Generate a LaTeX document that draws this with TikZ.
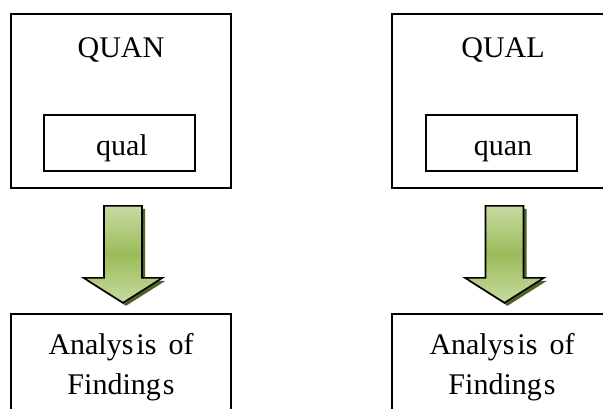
\documentclass[tikz,border=0pt]{standalone}
\usepackage{fontspec}
\setmainfont{Liberation Serif}
\usetikzlibrary{calc}

\definecolor{arrowgreen}{HTML}{9BBB59}
\definecolor{arrowlight}{HTML}{C8DAA2}
\definecolor{arrowdark}{HTML}{4F6228}

\begin{document}
\begin{tikzpicture}[
	x=1pt, y=-1pt,
	outer/.style={
		rectangle,
		draw=black,
		line width=1.6pt,
		minimum width=220pt,
		minimum height=174pt
	},
	inner/.style={
		rectangle,
		draw=black,
		line width=1.4pt,
		minimum width=151pt,
		minimum height=56pt
	},
	label/.style={font=\fontsize{30}{36}\selectfont, anchor=base},
	result/.style={
		rectangle,
		draw=black,
		line width=1.6pt,
		minimum width=220pt,
		minimum height=106pt,
		align=center,
		font=\fontsize{30}{40}\selectfont
	},
	arrowbody/.style={
		draw=black,
		line width=1.6pt,
		top color=arrowlight,
		bottom color=arrowlight,
		middle color=arrowgreen
	},
	arrowshadow/.style={fill=arrowdark}
]
\useasboundingbox (0,0) rectangle (603,408);

% Linke Seite: QUAN mit eingebettetem qual
\node[outer] (quan) at (121,101) {};
\node[label] (quantitle) at (121,57) {QUAN};
\node[inner] (qual) at (119.5,143) {};
\node[label] (qualtext) at (122,155) {qual};

% Rechte Seite: QUAL mit eingebettetem quan
\node[outer] (qualbox) at (502,101) {};
\node[label] (qualtitle) at (503,57) {QUAL};
\node[inner] (quanin) at (501.5,143) {};
\node[label] (quantext) at (503,155) {quan};

% Ergebnisboxen
\node[result] (findl) at (121,367) {Analys\hspace{3pt}is\hspace{12pt}of\\Finding\hspace{2pt}s};
\node[result] (findr) at (502,367) {Analys\hspace{3pt}is\hspace{12pt}of\\Finding\hspace{2pt}s};

% Blockpfeile
\coordinate (al) at ($(quan.south)+(2,17)$);
\coordinate (ar) at ($(qualbox.south)+(2.5,17)$);

\fill[arrowshadow] ($(al)+(-16,3)$) -- ++(38,0) -- ++(0,72) -- ++(20.5,0)
	-- ++(-39.5,25) -- ++(-39.5,-25) -- ++(20.5,0) -- cycle;
\shade[arrowbody] ($(al)+(-19,0)$) -- ++(38,0) -- ++(0,72) -- ++(20.5,0)
	-- ++(-39.5,25) -- ++(-39.5,-25) -- ++(20.5,0) -- cycle;

\fill[arrowshadow] ($(ar)+(-16,3)$) -- ++(38,0) -- ++(0,72) -- ++(20.5,0)
	-- ++(-39.5,25) -- ++(-39.5,-25) -- ++(20.5,0) -- cycle;
\shade[arrowbody] ($(ar)+(-19,0)$) -- ++(38,0) -- ++(0,72) -- ++(20.5,0)
	-- ++(-39.5,25) -- ++(-39.5,-25) -- ++(20.5,0) -- cycle;

\end{tikzpicture}
\end{document}
